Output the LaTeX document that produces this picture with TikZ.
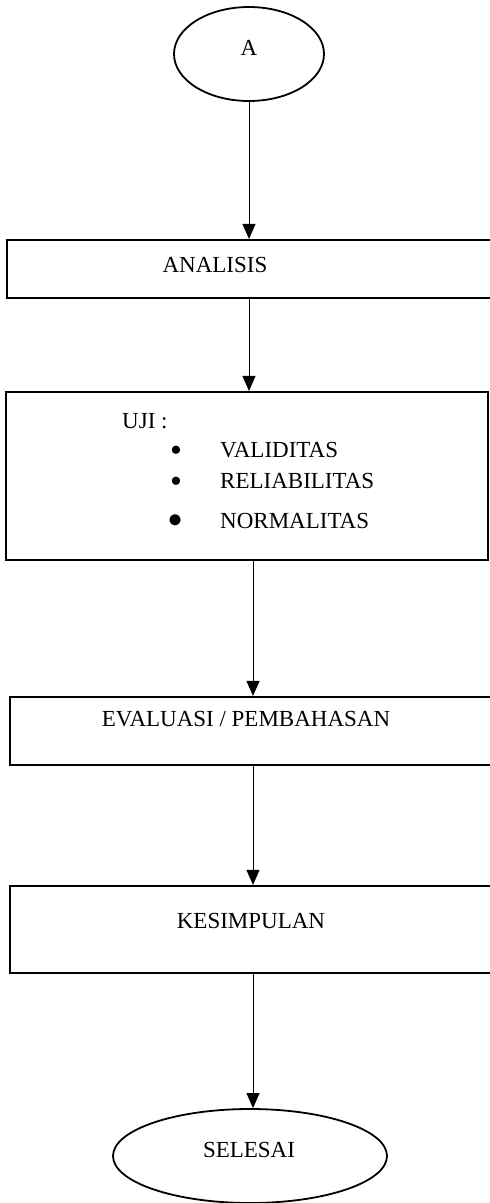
\documentclass[tikz,border=0pt]{standalone}
\usepackage{fontspec}
\setmainfont{Liberation Serif}
\usetikzlibrary{shapes.geometric,arrows.meta}
\tikzset{
  boxnode/.style={draw,line width=2.2pt,rectangle,inner sep=0pt},
  ovalnode/.style={draw,line width=1.8pt,ellipse,inner sep=0pt},
  lbl/.style={inner sep=0pt,font=\fontsize{23}{27}\selectfont},
  bul/.style={inner sep=0pt,font=\fontsize{34}{38}\selectfont},
  arr/.style={line width=1pt,-{Triangle[width=13pt,length=15pt]}}
}
\begin{document}
\begin{tikzpicture}[x=1pt,y=-1pt]
\useasboundingbox (0,0) rectangle (490,1203);
\clip (0,0) rectangle (490,1203);
% nodes
\node[ovalnode,minimum width=150pt,minimum height=94pt] (A) at (249,54) {};
\node[lbl] (Atxt) at (249,48) {A};
\node[boxnode,minimum width=493pt,minimum height=58pt] (analisis) at (253.5,269) {};
\node[lbl] (analisistxt) at (215,265) {ANALISIS};
\node[boxnode,minimum width=482pt,minimum height=168pt] (uji) at (247,476) {};
\node[lbl,anchor=west] (ujitxt) at (122,421) {UJI :};
\node[bul] (b1) at (176,454) {•};
\node[lbl,anchor=west] (validitas) at (220,450) {VALIDITAS};
\node[bul] (b2) at (176,485) {•};
\node[lbl,anchor=west] (reliabilitas) at (220,481) {RELIABILITAS};
\node[inner sep=0pt,font=\fontsize{46}{50}\selectfont] (b3) at (176,525) {•};
\node[lbl,anchor=west] (normalitas) at (220,521) {NORMALITAS};
\node[boxnode,minimum width=490pt,minimum height=68pt] (evaluasi) at (255,731) {};
\node[lbl] (evaluasitxt) at (246,719) {EVALUASI / PEMBAHASAN};
\node[boxnode,minimum width=490pt,minimum height=87pt] (kesimpulan) at (255,929.5) {};
\node[lbl] (kesimpulantxt) at (251,921) {KESIMPULAN};
\node[ovalnode,minimum width=274pt,minimum height=94pt] (selesai) at (250,1156) {};
\node[lbl] (selesaitxt) at (249,1150) {SELESAI};
% connectors
\coordinate (c1) at (249,0);
\coordinate (c2) at (253,0);
\draw[arr] (A.south) -- (analisis.north -| c1);
\draw[arr] (analisis.south -| c1) -- (uji.north -| c1);
\draw[arr] (uji.south -| c2) -- (evaluasi.north -| c2);
\draw[arr] (evaluasi.south -| c2) -- (kesimpulan.north -| c2);
\draw[arr] (kesimpulan.south -| c2) -- (selesai.north -| c2);
\end{tikzpicture}
\end{document}
